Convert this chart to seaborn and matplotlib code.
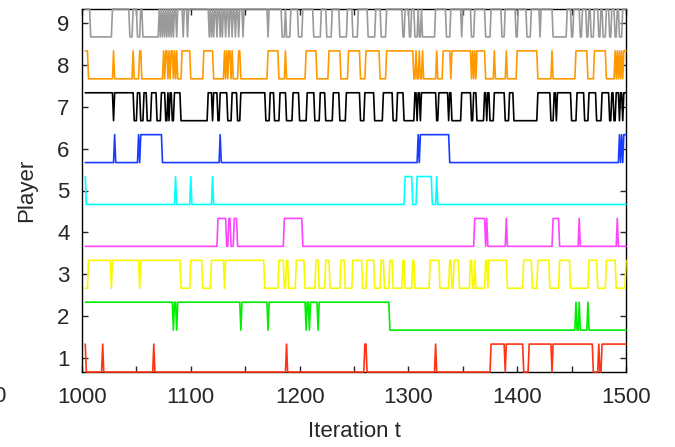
import numpy as np
import pandas as pd
import matplotlib
matplotlib.use("Agg")
import matplotlib.pyplot as plt
from matplotlib.ticker import MultipleLocator
import seaborn as sns

# ---------------- data ----------------
T_START, T_END = 1003, 1500
PLAYERS = [1, 2, 3, 4, 5, 6, 7, 8, 9]
COLORS = ["#ff3314", "#00ee00", "#f8f800", "#ff44ff", "#00ffff",
          "#1a3cff", "#000000", "#ff9900", "#9a9a9a"]
XTICKS = [1000, 1100, 1200, 1300, 1400, 1500]
YTICKS = [1, 2, 3, 4, 5, 6, 7, 8, 9]

# iterations (inclusive ranges) where a player is in its upper state
UP1 = [(1003, 1003), (1019, 1019), (1066, 1066), (1188, 1188), (1260, 1261),
       (1325, 1325), (1376, 1388), (1390, 1405), (1411, 1431), (1433, 1469),
       (1475, 1475), (1478, 1500)]
UP2 = [(1003, 1083), (1085, 1086), (1088, 1145), (1147, 1170), (1172, 1205),
       (1207, 1208), (1210, 1216), (1218, 1282), (1454, 1454), (1457, 1457),
       (1465, 1465)]
UP3 = [(1006, 1026), (1028, 1052), (1054, 1090), (1100, 1110), (1119, 1130),
       (1132, 1167), (1181, 1185), (1188, 1189), (1197, 1204), (1215, 1217),
       (1224, 1227), (1238, 1241), (1249, 1257), (1262, 1268), (1275, 1277),
       (1283, 1285), (1295, 1296), (1304, 1305), (1320, 1328), (1338, 1339),
       (1342, 1346), (1357, 1358), (1361, 1361), (1371, 1372), (1374, 1390),
       (1406, 1413), (1419, 1429), (1439, 1448), (1466, 1473), (1482, 1490),
       (1500, 1500)]
UP4 = [(1125, 1132), (1135, 1136), (1140, 1142), (1186, 1202), (1361, 1370),
       (1372, 1372), (1390, 1390), (1433, 1438), (1457, 1457), (1492, 1492)]
UP5 = [(1003, 1003), (1086, 1086), (1100, 1100), (1120, 1120), (1297, 1303),
       (1308, 1321), (1326, 1326)]
UP6 = [(1030, 1030), (1052, 1052), (1054, 1073), (1127, 1127), (1309, 1309),
       (1311, 1337), (1494, 1494), (1496, 1496), (1498, 1500)]
UP7 = [(1003, 1028), (1030, 1047), (1051, 1053), (1057, 1059), (1064, 1068),
       (1073, 1076), (1079, 1079), (1081, 1082), (1085, 1090), (1116, 1119),
       (1121, 1124), (1127, 1133), (1138, 1142), (1146, 1168), (1173, 1176),
       (1182, 1187), (1194, 1199), (1207, 1213), (1219, 1223), (1231, 1236),
       (1243, 1255), (1260, 1268), (1277, 1285), (1290, 1295), (1306, 1307),
       (1309, 1310), (1312, 1325), (1328, 1336), (1338, 1339), (1349, 1357),
       (1360, 1362), (1370, 1371), (1373, 1374), (1379, 1388), (1393, 1396),
       (1419, 1430), (1434, 1435), (1437, 1449), (1455, 1461), (1466, 1472),
       (1478, 1484), (1487, 1488), (1491, 1493), (1495, 1496), (1498, 1500)]
UP8 = [(1003, 1005), (1029, 1029), (1047, 1047), (1053, 1054), (1075, 1075),
       (1077, 1078), (1080, 1080), (1082, 1083), (1085, 1085), (1087, 1087),
       (1092, 1099), (1112, 1120), (1131, 1131), (1133, 1133), (1135, 1136),
       (1138, 1138), (1144, 1145), (1171, 1180), (1187, 1187), (1206, 1215),
       (1227, 1237), (1245, 1255), (1261, 1273), (1280, 1304), (1307, 1307),
       (1310, 1310), (1313, 1313), (1326, 1326), (1332, 1338), (1340, 1357),
       (1359, 1359), (1361, 1361), (1363, 1370), (1379, 1379), (1390, 1390),
       (1400, 1418), (1432, 1432), (1454, 1464), (1471, 1481), (1490, 1490),
       (1492, 1492), (1494, 1494), (1496, 1496), (1498, 1500)]
# player 9 is mostly in its upper state: ranges where it is in the lower state
LOW9 = [(1008, 1027), (1044, 1046), (1051, 1053), (1056, 1070), (1072, 1072),
        (1074, 1074), (1076, 1076), (1078, 1078), (1080, 1080), (1082, 1082),
        (1084, 1084), (1087, 1087), (1093, 1093), (1097, 1097), (1117, 1117),
        (1119, 1119), (1121, 1121), (1124, 1124), (1127, 1127), (1129, 1129),
        (1132, 1132), (1135, 1135), (1138, 1138), (1141, 1141), (1144, 1144),
        (1148, 1148), (1171, 1171), (1184, 1186), (1188, 1191), (1199, 1202),
        (1213, 1219), (1225, 1229), (1237, 1243), (1249, 1253), (1263, 1269),
        (1275, 1279), (1295, 1296), (1301, 1302), (1306, 1308), (1310, 1311),
        (1313, 1324), (1335, 1338), (1349, 1349), (1358, 1360), (1371, 1375),
        (1386, 1388), (1399, 1400), (1409, 1412), (1421, 1421), (1433, 1445),
        (1450, 1451), (1458, 1459), (1464, 1465), (1468, 1470), (1475, 1476),
        (1479, 1481), (1485, 1486), (1490, 1491), (1494, 1496)]

SPEC = {1: (UP1, 0), 2: (UP2, 0), 3: (UP3, 0), 4: (UP4, 0), 5: (UP5, 0),
        6: (UP6, 0), 7: (UP7, 0), 8: (UP8, 0), 9: (LOW9, 1)}

# ---------------- build table ----------------
t = np.arange(T_START, T_END + 1)
frames = []
for p in PLAYERS:
    ranges, default = SPEC[p]
    s = np.full(len(t), default, dtype=float)
    for a, b in ranges:
        s[(t >= a) & (t <= b)] = 1 - default
    frames.append(pd.DataFrame({"t": t, "y": p - 1 / 3 + 2 / 3 * s, "player": p}))
df = pd.concat(frames, ignore_index=True)

# ---------------- plot ----------------
sns.set_style("ticks")
plt.rcParams["font.family"] = ["Liberation Sans", "DejaVu Sans"]

fig = plt.figure(figsize=(6.75, 4.47), dpi=100)
ax = fig.add_axes([82 / 675, 1 - 372 / 447, 544 / 675, 363 / 447])

sns.lineplot(data=df, x="t", y="y", hue="player",
             palette=dict(zip(PLAYERS, COLORS)), estimator=None,
             legend=False, linewidth=1.2, ax=ax)
for ln in ax.lines:
    ln.set_clip_on(False)
    ln.set_zorder(3)

ax.set_xlim(1000, 1500)
ax.set_ylim(2 / 3, 9 + 1 / 3)
ax.set_xticks(XTICKS)
ax.xaxis.set_minor_locator(MultipleLocator(50))
ax.set_yticks(YTICKS)
ax.tick_params(axis="both", which="both", direction="in", top=True,
               right=True, length=4, width=1, labelsize=16, pad=9)
ax.tick_params(axis="x", pad=11)
for sp in ax.spines.values():
    sp.set_linewidth(1.0)
    sp.set_color("black")

ax.set_xlabel("Iteration t", fontsize=16, labelpad=9)
ax.set_ylabel("Player", fontsize=16, labelpad=14)

# clipped tick label of a neighbouring panel at the far left
fig.text(-1 / 675, 1 - 397 / 447, "0", ha="center", va="center", fontsize=16)

fig.savefig("out.png", dpi=100)
